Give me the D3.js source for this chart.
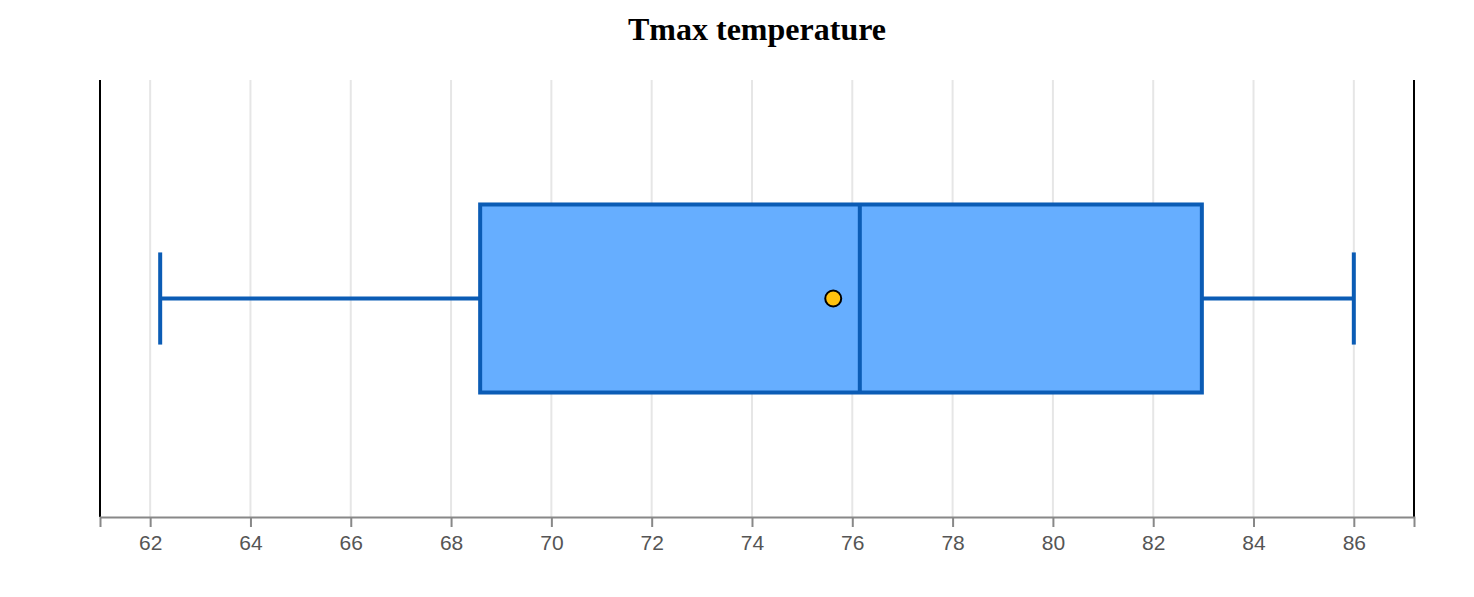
<!DOCTYPE html>
<html lang="en">
<head>
    <meta charset="UTF-8">
    <title>Tmax temperature</title>
    <style>
        body { margin: 0; background: #fff; }
        .title { font-family: "Liberation Serif", "Times New Roman", serif; font-weight: bold; font-size: 32px; }
        .x-axis path, .x-axis line { stroke: #888; stroke-width: 2px; }
        .grid line { stroke: #e6e6e6; stroke-width: 2px; }
    </style>
</head>
<body>
    <div id="chart"></div>
    <script src="https://d3js.org/d3.v7.min.js"></script>
    <script>
        const width = 1474;
        const height = 597;
        const margin = { top: 80, right: 60, bottom: 80, left: 100 };

        // box summary
        const seriesName = ["Tmax"];
        const lowWhisker = [62.2];
        const quartile1 = [68.58];
        const median = [76.15];
        const quartile3 = [82.97];
        const highWhisker = [86.0];
        const mean = [75.62];
        const xDomain = [61.0, 87.2];
        const tickValues = [62, 64, 66, 68, 70, 72, 74, 76, 78, 80, 82, 84, 86];

        const svg = d3.select("#chart")
            .append("svg")
            .attr("width", width)
            .attr("height", height);

        const x = d3.scaleLinear()
            .domain(xDomain)
            .range([margin.left, width - margin.right]);

        const y = d3.scaleBand()
            .domain(seriesName)
            .range([margin.top, height - margin.bottom])
            .paddingInner(0)
            .paddingOuter(0.662);

        svg.append("text")
            .attr("class", "title")
            .attr("x", width / 2 + 20)
            .attr("y", 40)
            .attr("text-anchor", "middle")
            .text("Tmax temperature");

        // vertical grid
        svg.append("g")
            .attr("class", "grid")
            .selectAll("line")
            .data(tickValues)
            .join("line")
            .attr("x1", d => x(d))
            .attr("x2", d => x(d))
            .attr("y1", margin.top)
            .attr("y2", height - margin.bottom);

        // left / right frame lines
        svg.append("g")
            .selectAll("line")
            .data(xDomain)
            .join("line")
            .attr("x1", d => x(d))
            .attr("x2", d => x(d))
            .attr("y1", margin.top)
            .attr("y2", height - margin.bottom)
            .attr("stroke", "#000")
            .attr("stroke-width", 2);

        const xAxis = svg.append("g")
            .attr("class", "x-axis")
            .attr("transform", `translate(0,${height - margin.bottom})`)
            .call(d3.axisBottom(x).tickValues(tickValues).tickSize(10).tickSizeOuter(10).tickPadding(8));

        xAxis.selectAll("text")
            .style("font-family", "'Liberation Sans', Arial, sans-serif")
            .style("font-size", "21px")
            .style("fill", "#555");

        const g = svg.append("g");
        const stroke = "#0b5cb5";
        const sw = 4;

        seriesName.forEach((name, i) => {
            const top = y(name);
            const bw = y.bandwidth();
            const mid = top + bw / 2;
            const capH = bw * 0.49;

            // whisker lines
            g.append("line")
                .attr("x1", x(lowWhisker[i])).attr("x2", x(quartile1[i]))
                .attr("y1", mid).attr("y2", mid)
                .attr("stroke", stroke).attr("stroke-width", sw);
            g.append("line")
                .attr("x1", x(quartile3[i])).attr("x2", x(highWhisker[i]))
                .attr("y1", mid).attr("y2", mid)
                .attr("stroke", stroke).attr("stroke-width", sw);

            [lowWhisker[i], highWhisker[i]].forEach(v => {
                g.append("line")
                    .attr("x1", x(v)).attr("x2", x(v))
                    .attr("y1", mid - capH / 2).attr("y2", mid + capH / 2)
                    .attr("stroke", stroke).attr("stroke-width", sw);
            });

            g.append("rect")
                .attr("x", x(quartile1[i]))
                .attr("y", top)
                .attr("width", x(quartile3[i]) - x(quartile1[i]))
                .attr("height", bw)
                .attr("fill", "#66aeff")
                .attr("stroke", stroke)
                .attr("stroke-width", sw);

            g.append("line")
                .attr("x1", x(median[i])).attr("x2", x(median[i]))
                .attr("y1", top).attr("y2", top + bw)
                .attr("stroke", stroke).attr("stroke-width", sw);

            g.append("circle")
                .attr("cx", x(mean[i]))
                .attr("cy", mid)
                .attr("r", 8)
                .attr("fill", "#ffc20e")
                .attr("stroke", "#000")
                .attr("stroke-width", 2);
        });
    </script>
</body>
</html>
